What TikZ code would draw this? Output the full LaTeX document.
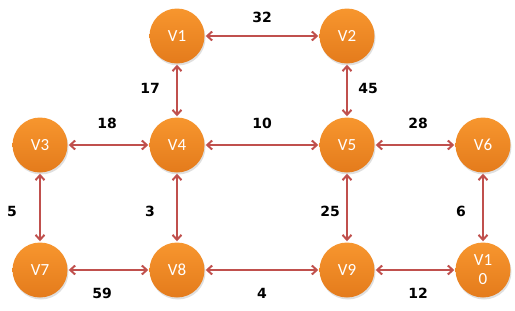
\documentclass[tikz,border=0pt]{standalone}
\usepackage{fontspec}
\setsansfont{Carlito}
\newfontfamily\labelfont{DejaVu Sans}
\usetikzlibrary{positioning,arrows.meta,shadows}
\definecolor{gOrange}{HTML}{F7962E}
\definecolor{gOrangeD}{HTML}{E47B1C}
\definecolor{gRed}{HTML}{C0504D}
\definecolor{gWhite}{HTML}{FFFFFF}
\tikzset{
  g-node/.style={
    circle, minimum size=55pt, inner sep=0pt,
    top color=gOrange, bottom color=gOrangeD, draw=none,
    drop shadow={shadow xshift=1pt, shadow yshift=-2pt, opacity=0.25},
    font=\sffamily\fontsize{17}{19}\selectfont, text=gWhite, align=center
  },
  g-edge/.style={{Straight Barb[length=5pt,width=9pt]}-{Straight Barb[length=5pt,width=9pt]},
    line width=2pt, draw=gRed, shorten <=1pt, shorten >=1pt},
  g-label/.style={font=\labelfont\bfseries\fontsize{14}{14}\selectfont, text=black}
}

\begin{document}
\begin{tikzpicture}[x=1pt, y=-1pt]
\useasboundingbox (0,0) rectangle (515,311);

\node[g-node] (v1) at (177,36) {V1};
\node[g-node] (v2) at (347,36) {V2};
\node[g-node] (v3) at (40,145) {V3};
\node[g-node] (v4) at (177,145) {V4};
\node[g-node] (v5) at (347,145) {V5};
\node[g-node] (v6) at (483,145) {V6};
\node[g-node] (v7) at (40,270) {V7};
\node[g-node] (v8) at (177,270) {V8};
\node[g-node] (v9) at (347,270) {V9};
\node[g-node] (v10) at (483,270) {V1\\0};

\draw[g-edge] (v1) -- (v2);
\draw[g-edge] (v1) -- (v4);
\draw[g-edge] (v2) -- (v5);
\draw[g-edge] (v3) -- (v4);
\draw[g-edge] (v4) -- (v5);
\draw[g-edge] (v5) -- (v6);
\draw[g-edge] (v3) -- (v7);
\draw[g-edge] (v4) -- (v8);
\draw[g-edge] (v5) -- (v9);
\draw[g-edge] (v6) -- (v10);
\draw[g-edge] (v7) -- (v8);
\draw[g-edge] (v8) -- (v9);
\draw[g-edge] (v9) -- (v10);

% weights
\node[g-label] (w12) at (262,17) {32};
\node[g-label] (w14) at (150,88) {17};
\node[g-label] (w25) at (368,88) {45};
\node[g-label] (w34) at (107,123) {18};
\node[g-label] (w45) at (262,123) {10};
\node[g-label] (w56) at (418,123) {28};
\node[g-label] (w37) at (12,211) {5};
\node[g-label] (w48) at (150,211) {3};
\node[g-label] (w59) at (330,211) {25};
\node[g-label] (w610) at (461,211) {6};
\node[g-label] (w78) at (102,293) {59};
\node[g-label] (w89) at (262,293) {4};
\node[g-label] (w910) at (418,293) {12};
\end{tikzpicture}
\end{document}
